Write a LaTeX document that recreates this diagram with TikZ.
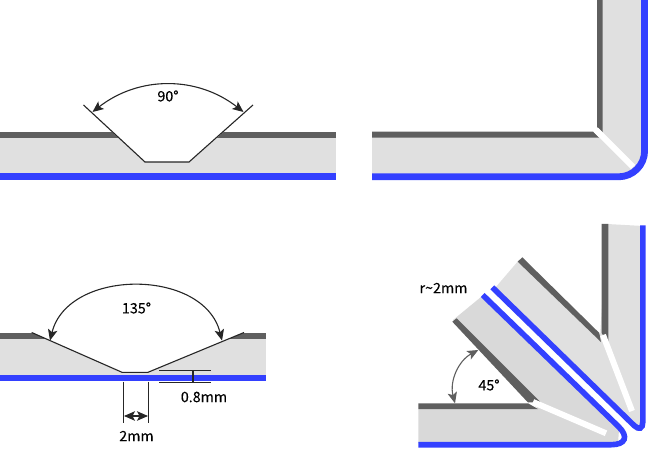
\documentclass[tikz,border=0pt]{standalone}
\usepackage{fontspec}
\setmainfont[FakeBold=0.2]{Noto Sans CJK SC}
\usetikzlibrary{arrows.meta}
\definecolor{platefill}{HTML}{E0E0E0}
\definecolor{platedark}{HTML}{D9D9D9}
\definecolor{topband}{HTML}{5F5F5F}
\definecolor{backband}{HTML}{3340FF}
\tikzset{
  topline/.style={line width=6pt, topband},
  backline/.style={line width=6.8pt, backband},
  foldline/.style={line width=5.6pt, backband},
  creaseline/.style={line width=6pt, white},
  dimline/.style={line width=1.1pt, black!85},
  anglearrow/.style={line width=1.1pt, black!85, {Stealth[length=11pt,width=9.5pt,inset=2.5pt]}-{Stealth[length=11pt,width=9.5pt,inset=2.5pt]}},
  dimtext/.style={font=\fontsize{14.3}{16}\selectfont, text=black, inner sep=0pt}
}
\begin{document}
\begin{tikzpicture}[x=1pt, y=-1pt]
    \useasboundingbox (0,0) rectangle (648,449);

    % Top left: 90 degree groove
    \fill[platefill] (0,137) rectangle (336,174);
    \draw[topline] (0,134.7) -- (336,134.7);
    \draw[backline] (0,176.8) -- (336,176.8);
    \fill[white] (101,122) -- (145,162) -- (189,162) -- (235,122) -- cycle;
    \coordinate (g1a) at (83.5,105);
    \coordinate (g1b) at (145,162);
    \coordinate (g1c) at (189,162);
    \coordinate (g1d) at (253,105);
    \draw[dimline] (g1a) -- (g1b) -- (g1c) -- (g1d);
    \coordinate (a1l) at (92.5,112);
    \coordinate (a1r) at (243.5,112);
    \draw[anglearrow] (a1l) to[bend left=38] (a1r);
    \node[dimtext] (t90) at (168,96) {90°};

    % Top right: folded to 90 degrees
    \fill[platefill] (372,137) -- (599,137) -- (602,132) -- (602,0) -- (644,0)
      [rounded corners=26pt] -- (644,177) [sharp corners] -- (372,177) -- cycle;
    \fill[topband] (372,131.7) -- (593,131.7) -- (599,137.7) -- (372,137.7) -- cycle;
    \fill[topband] (597,0) -- (602.7,0) -- (602.7,132.5) -- (597,127) -- cycle;
    \draw[creaseline] (596,130) -- (633,167);
    \draw[backline, rounded corners=26pt] (372,176.8) -- (644.6,176.8) -- (644.6,0);

    % Bottom left: 135 degree groove
    \fill[platefill] (0,338) rectangle (266,375);
    \draw[topline] (0,335.7) -- (266,335.7);
    \draw[backline] (0,378) -- (266,378);
    \fill[white] (31.7,330) -- (31.7,332.5) -- (122,372.3) -- (148,372.3) -- (244,332.5) -- (244,330) -- cycle;
    \coordinate (g2a) at (31.7,332.5);
    \coordinate (g2b) at (122,372.3);
    \coordinate (g2c) at (148,372.3);
    \coordinate (g2d) at (244,332.5);
    \draw[dimline] (g2a) -- (g2b) -- (g2c) -- (g2d);
    \coordinate (a2l) at (50,340.5);
    \coordinate (a2r) at (222,340.5);
    \draw[anglearrow] (a2l) .. controls (68,268) and (204,268) .. (a2r);
    \node[dimtext] (t135) at (136.5,308) {135°};

    % Dimensions below the groove
    \draw[dimline] (123.5,381.7) -- (123.5,422.5);
    \draw[dimline] (148.5,381.7) -- (148.5,422.5);
    \coordinate (w1) at (124,416);
    \coordinate (w2) at (148,416);
    \draw[anglearrow] (w1) -- (w2);
    \node[dimtext] (t2mm) at (136.5,436) {2mm};
    \draw[dimline] (159,370.3) -- (211,370.3);
    \draw[dimline] (159,382.2) -- (211,382.2);
    \draw[dimline] (193,370.3) -- (193,382.2);
    \node[dimtext] (t08) at (204,397) {0.8mm};

    % Bottom right: folding by 45 degrees
    \fill[platefill] (607,224) -- (643,226) -- (643,425) -- (636,428) -- (625,416) -- (495,288)
      -- (519,260) -- (600,337) -- cycle;
    \fill[topband] (517.7,261.7) -- (522.3,257.3) -- (599.3,333) -- (601,342) -- cycle;
    \fill[topband] (601.7,224) -- (608.3,224) -- (608.3,345) -- (601.7,333) -- cycle;
    \draw[creaseline] (603,335) -- (632,411);
    \draw[foldline, rounded corners=12pt] (492.3,287.3) -- (642.8,434) -- (642.8,225.3);
    \fill[platedark] (418.3,409) -- (538,409) -- (453,320) -- (481,297) -- (619,430) -- (618,443) -- (418.3,443) -- cycle;
    \fill[topband] (418.3,403.3) -- (528,403.3) -- (538,409) -- (418.3,409) -- cycle;
    \fill[topband] (452.3,321.7) -- (456.7,318.3) -- (540,401.7) -- (528,402.5) -- cycle;
    \draw[creaseline] (533,402) -- (606,433.3);
    \draw[foldline, rounded corners=26pt] (482.7,295) -- (637.2,444.7) -- (418.3,444.7);
    \coordinate (a3a) at (455,403.3);
    \coordinate (a3b) at (478.3,350);
    \draw[anglearrow, topband] (a3a) to[bend left=38] (a3b);
    \node[dimtext] (t45) at (489,385) {45°};
    \node[dimtext] (tr) at (443.5,288) {r\textasciitilde2mm};
\end{tikzpicture}
\end{document}
